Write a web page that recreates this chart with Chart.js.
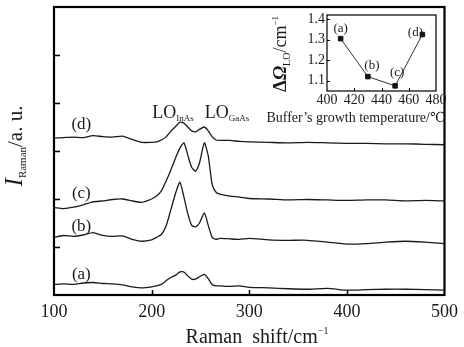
<!DOCTYPE html>
<html>
<head>
<meta charset="utf-8">
<script src="https://cdn.jsdelivr.net/npm/chart.js@4/dist/chart.umd.min.js"></script>
<style>
  html, body { margin: 0; padding: 0; background: #fff; }
  #wrap { position: relative; width: 464px; height: 347px; }
  #main { position: absolute; left: 0; top: 0; }
  #inset { position: absolute; left: 260px; top: 0; }
</style>
</head>
<body>
<div id="wrap">
  <canvas id="main" width="464" height="347"></canvas>
  <canvas id="inset" width="204" height="130"></canvas>
</div>
<script>
// Raman shift (cm-1)
const shifts = [100, 110, 120, 130, 140, 150, 160, 170, 180, 190, 200, 205, 210, 215, 220, 225, 229, 233, 237, 241,
                245, 249, 254, 258, 262, 266, 270, 280, 290, 300, 320, 340, 360, 380, 400, 420, 440, 460, 480, 500];

// spectra, offset for display (arb. units)
const specA = [0.22, 0.23, 0.22, 0.25, 0.26, 0.24, 0.23, 0.21, 0.17, 0.15, 0.17, 0.19, 0.22, 0.30, 0.37, 0.42, 0.48, 0.48, 0.40, 0.33,
               0.33, 0.38, 0.43, 0.34, 0.22, 0.19, 0.19, 0.18, 0.19, 0.16, 0.15, 0.13, 0.12, 0.14, 0.10, 0.11, 0.12, 0.12, 0.11, 0.10];
const specB = [1.20, 1.24, 1.22, 1.25, 1.30, 1.24, 1.22, 1.23, 1.16, 1.12, 1.15, 1.20, 1.26, 1.45, 1.80, 2.15, 2.35, 2.05, 1.70, 1.45,
               1.42, 1.50, 1.71, 1.45, 1.20, 1.16, 1.18, 1.17, 1.16, 1.18, 1.15, 1.14, 1.14, 1.10, 1.06, 1.07, 1.10, 1.12, 1.10, 1.07];
const specC = [1.82, 1.80, 1.83, 1.88, 1.94, 1.96, 1.99, 2.00, 1.96, 1.93, 2.00, 2.06, 2.17, 2.38, 2.62, 2.88, 3.06, 3.17, 2.92, 2.66,
               2.58, 2.75, 3.17, 2.90, 2.30, 2.14, 2.10, 2.06, 2.04, 2.01, 2.00, 1.98, 1.99, 1.98, 1.97, 1.98, 1.98, 1.96, 1.97, 1.96];
const specD = [3.27, 3.28, 3.29, 3.28, 3.32, 3.30, 3.29, 3.31, 3.24, 3.18, 3.18, 3.19, 3.23, 3.30, 3.42, 3.52, 3.60, 3.58, 3.50, 3.42,
               3.40, 3.45, 3.50, 3.42, 3.30, 3.23, 3.22, 3.22, 3.20, 3.19, 3.18, 3.17, 3.18, 3.17, 3.16, 3.16, 3.15, 3.15, 3.14, 3.13];
const sampleNames = ['(a)', '(b)', '(c)', '(d)'];

// inset: LO linewidth vs buffer growth temperature
const bufferTemps = [410, 430, 450, 470];
const loWidth = [1.305, 1.12, 1.075, 1.325];

const SERIF = '"Liberation Serif", "DejaVu Serif", serif';
const INK = '#1a1a1a';

function pts(ys) {
    return shifts.map((x, i) => ({x: x, y: ys[i]}));
}

// draws a run of text pieces (with sub/superscripts) as one string
function richText(ctx, parts, x, y, align) {
    let w = 0;
    parts.forEach(p => {
        ctx.font = (p.style || '') + ' ' + p.size + 'px ' + SERIF;
        p.w = ctx.measureText(p.t).width;
        w += p.w;
    });
    let cx = align === 'center' ? x - w / 2 : x;
    ctx.textBaseline = 'alphabetic';
    ctx.textAlign = 'left';
    parts.forEach(p => {
        ctx.font = (p.style || '') + ' ' + p.size + 'px ' + SERIF;
        ctx.fillText(p.t, cx, y + (p.dy || 0));
        cx += p.w;
    });
}

const mainDecor = {
    id: 'mainDecor',
    afterDraw(chart) {
        const {ctx, chartArea: a, scales: {x, y}} = chart;
        ctx.save();
        ctx.strokeStyle = '#000';
        ctx.fillStyle = INK;
        // inner ticks
        ctx.lineWidth = 1.5;
        ctx.beginPath();
        [1, 2, 3, 4, 5].forEach(v => {
            const py = Math.round(y.getPixelForValue(v)) + 0.5;
            ctx.moveTo(a.left, py);
            ctx.lineTo(a.left + 6, py);
        });
        [200, 300, 400].forEach(v => {
            const px = Math.round(x.getPixelForValue(v)) + 0.5;
            ctx.moveTo(px, a.bottom);
            ctx.lineTo(px, a.bottom - 5);
        });
        ctx.stroke();
        // frame
        ctx.lineWidth = 2.2;
        ctx.strokeRect(a.left, a.top, a.right - a.left, a.bottom - a.top);

        // curve labels
        const labY = [0.46, 1.46, 2.15, 3.58];
        sampleNames.forEach((s, i) => {
            richText(ctx, [{t: s, size: 17}], x.getPixelForValue(128), y.getPixelForValue(labY[i]) + 6, 'center');
        });
        // peak labels
        richText(ctx, [{t: 'LO', size: 18}, {t: 'InAs', size: 9, dy: 3}], 173, 118, 'center');
        richText(ctx, [{t: 'LO', size: 18}, {t: 'GaAs', size: 9, dy: 3}], 227, 118, 'center');

        // axis titles
        richText(ctx, [{t: 'Raman  shift', size: 20}, {t: '/', size: 20}, {t: 'cm', size: 20}, {t: '\u22121', size: 10, dy: -9}],
                 257, 343, 'center');
        ctx.translate(22, 146);
        ctx.rotate(-Math.PI / 2);
        richText(ctx, [{t: 'I', size: 25, style: 'italic'}, {t: 'Raman', size: 11, dy: 4}, {t: '/a. u.', size: 21}], 0, 0, 'center');
        ctx.restore();
    }
};

new Chart(document.getElementById('main'), {
    type: 'line',
    data: {
        datasets: [specA, specB, specC, specD].map((d, i) => ({
            label: sampleNames[i],
            data: pts(d)
        }))
    },
    options: {
        responsive: false,
        animation: false,
        layout: { padding: { top: 7, right: 8 } },
        plugins: {
            legend: { display: false },
            tooltip: { enabled: false }
        },
        elements: {
            point: { radius: 0 },
            line: { borderWidth: 1.3, borderColor: INK, tension: 0.2, fill: false }
        },
        scales: {
            x: {
                type: 'linear', min: 100, max: 500,
                ticks: { stepSize: 100, color: INK, font: { family: SERIF, size: 18 }, padding: 6, maxRotation: 0 },
                grid: { display: false, drawTicks: false },
                border: { display: false },
                afterFit(s) { s.height = 52; }
            },
            y: {
                min: 0, max: 6,
                ticks: { display: false, stepSize: 1 },
                grid: { display: false, drawTicks: false },
                border: { display: false },
                afterFit(s) { s.width = 54; }
            }
        }
    },
    plugins: [mainDecor]
});

const insetDecor = {
    id: 'insetDecor',
    afterDraw(chart) {
        const {ctx, chartArea: a, scales: {x, y}} = chart;
        ctx.save();
        ctx.strokeStyle = '#000';
        ctx.fillStyle = INK;
        ctx.lineWidth = 1;
        ctx.beginPath();
        [1.1, 1.2, 1.3, 1.4].forEach(v => {
            const py = Math.round(y.getPixelForValue(v)) + 0.5;
            ctx.moveTo(a.left, py);
            ctx.lineTo(a.left + 3, py);
        });
        [420, 440, 460].forEach(v => {
            const px = Math.round(x.getPixelForValue(v)) + 0.5;
            ctx.moveTo(px, a.bottom);
            ctx.lineTo(px, a.bottom - 3);
        });
        ctx.stroke();
        ctx.lineWidth = 1.2;
        ctx.strokeRect(a.left, a.top, a.right - a.left, a.bottom - a.top);

        const offs = [[0, -7], [4, -8], [2, -10], [-7, 1]];
        bufferTemps.forEach((t, i) => {
            richText(ctx, [{t: sampleNames[i], size: 13}], x.getPixelForValue(t) + offs[i][0],
                     y.getPixelForValue(loWidth[i]) + offs[i][1], 'center');
        });

        richText(ctx, [{t: 'Buffer\u2019s growth temperature/\u2103', size: 14}], 96, 122, 'center');
        ctx.translate(26, 54);
        ctx.rotate(-Math.PI / 2);
        richText(ctx, [{t: '\u0394', size: 19, style: 'bold'}, {t: '\u03a9', size: 19, style: 'bold italic'},
                       {t: 'LO', size: 10, dy: 4}, {t: '/cm', size: 18}, {t: '\u22121', size: 9, dy: -8}], 0, 0, 'center');
        ctx.restore();
    }
};

new Chart(document.getElementById('inset'), {
    type: 'line',
    data: {
        datasets: [{
            data: bufferTemps.map((t, i) => ({x: t, y: loWidth[i]})),
            borderColor: '#333',
            borderWidth: 1,
            pointStyle: 'rect',
            pointRadius: 3.2,
            pointBackgroundColor: '#111',
            pointBorderColor: '#111'
        }]
    },
    options: {
        responsive: false,
        animation: false,
        layout: { padding: { top: 15, right: 28 } },
        plugins: {
            legend: { display: false },
            tooltip: { enabled: false }
        },
        scales: {
            x: {
                type: 'linear', min: 400, max: 480,
                ticks: { stepSize: 20, color: INK, font: { family: SERIF, size: 14 }, padding: 1, maxRotation: 0 },
                grid: { display: false, drawTicks: false },
                border: { display: false },
                afterFit(s) { s.height = 39; }
            },
            y: {
                min: 1.05, max: 1.42,
                afterBuildTicks(s) { s.ticks = [1.1, 1.2, 1.3, 1.4].map(v => ({value: v})); },
                ticks: { color: INK, font: { family: SERIF, size: 14 }, padding: 2, callback: v => v.toFixed(1) },
                grid: { display: false, drawTicks: false },
                border: { display: false },
                afterFit(s) { s.width = 67; }
            }
        }
    },
    plugins: [insetDecor]
});
</script>
</body>
</html>
